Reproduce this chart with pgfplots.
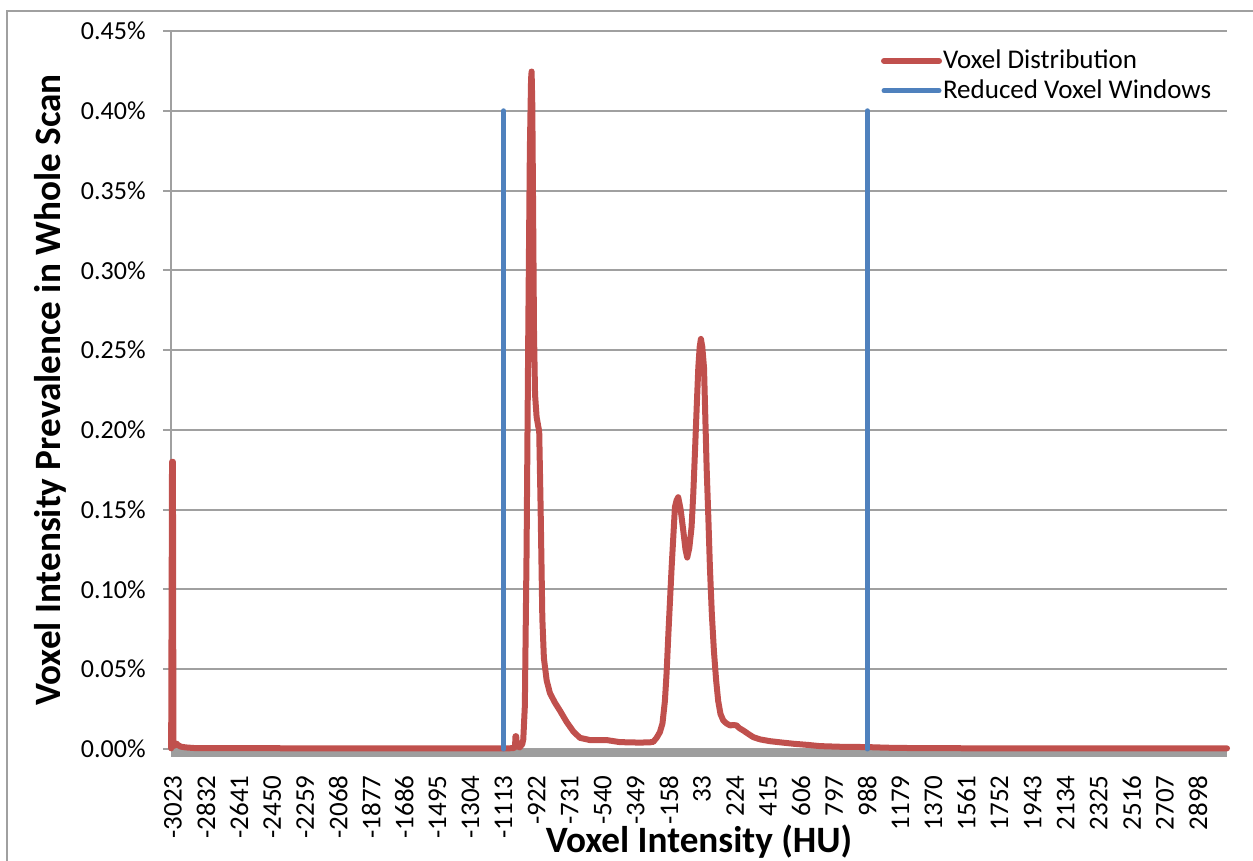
\documentclass[border=0pt]{standalone}
\usepackage{fontspec}
\setmainfont{Carlito}
\usepackage{pgfplots}
\pgfplotsset{compat=1.18}
\definecolor{xlRed}{HTML}{C0504D}
\definecolor{xlBlue}{HTML}{4F81BD}
\definecolor{xlGrid}{HTML}{A0A0A0}
\definecolor{xlBand}{HTML}{9E9E9E}

\begin{document}
\begin{tikzpicture}
\path[use as bounding box] (0,0) rectangle (626.5pt,430.5pt);
\draw[xlGrid, line width=1pt] (3.5pt,-20pt) -- (3.5pt,425pt) -- (700pt,425pt);
\begin{axis}[
  at={(85.5pt,56pt)}, anchor=south west,
  scale only axis, width=528pt, height=359pt,
  xmin=-3034, xmax=3066, ymin=0, ymax=0.45,
  axis x line*=bottom, axis y line*=left,
  x axis line style={draw=none},
  y axis line style={xlGrid, line width=1pt},
  xtick={-3023,-2832,...,2898},
  ytick={0,0.05,...,0.45},
  ymajorgrids, grid style={xlGrid, line width=1pt},
  tick align=outside, major tick length=4pt,
  ytick style={xlGrid, line width=1pt},
  xtick style={draw=none},
  /pgf/number format/assume math mode=true,
  tick label style={font=\fontsize{13}{15}\selectfont},
  yticklabel={\pgfmathprintnumber[fixed,fixed zerofill,precision=2]{\tick}\%},
  xticklabel={\pgfmathprintnumber[fixed,precision=0,set thousands separator={}]{\tick}},
  xticklabel style={rotate=90, anchor=east, inner sep=0pt, font=\fontsize{13.5}{15}\selectfont},
  xticklabel shift=9pt,
  yticklabel style={anchor=east, inner sep=0pt},
  yticklabel shift=8.5pt,
  xlabel={Voxel Intensity (HU)}, ylabel={Voxel Intensity Prevalence in Whole Scan},
  label style={font=\fontsize{18.6}{21}\selectfont\bfseries},
  xlabel style={at={([yshift=-46.5pt]axis description cs:0.5,0)}, anchor=center},
  ylabel style={at={([xshift=-60.5pt]axis description cs:0,0.5)}, anchor=center},
  legend style={at={(axis description cs:0.672,0.974)}, anchor=north west,
    draw=none, fill=none, inner sep=0pt, row sep=4pt, column sep=0.5pt,
    nodes={inner sep=0pt}, font=\fontsize{13.5}{16}\selectfont},
  legend cell align=left,
  legend image code/.code={\draw[#1, line cap=round] (0pt,0pt) -- (27.5pt,0pt);},
  unbounded coords=jump,
  clip=false,
]
\fill[xlBand] (axis cs:-3034,0) rectangle ([yshift=-4pt]axis cs:3066,0);
\addplot[xlRed, line width=3pt, line cap=round, line join=round] coordinates {
(-3033,0.0004) (-3028,0.180) (-3023,0.180) (-3020,0.004) (-3012,0.002) (-3004,0.0035)
(-2994,0.0025) (-2978,0.0015) (-2950,0.0010) (-2900,0.0006) (-2600,0.0005)
(-2000,0.0004) (-1500,0.0004) (-1100,0.0004) (-1060,0.0005) (-1047,0.0010)
(-1044,0.0080) (-1040,0.0080) (-1036,0.0020) (-1020,0.0010) (-1005,0.0030)
(-999,0.006) (-990,0.027) (-980,0.124) (-970,0.264) (-961,0.376) (-954,0.420)
(-951,0.4246) (-947,0.404) (-942,0.334) (-937,0.260) (-931,0.222) (-922,0.208)
(-913,0.2025) (-907,0.199) (-899,0.152) (-889,0.082) (-880,0.057) (-864,0.043)
(-845,0.035) (-816,0.029) (-787,0.024) (-749,0.017) (-710,0.011) (-672,0.007)
(-614,0.0056) (-518,0.0056) (-441,0.0043) (-325,0.0040) (-267,0.0042) (-248,0.0045)
(-229,0.007) (-210,0.0105) (-195,0.016) (-181,0.030) (-171,0.048) (-161,0.072)
(-142,0.114) (-123,0.1516) (-113,0.156) (-104,0.1578) (-90,0.150) (-75,0.137)
(-62,0.125) (-52,0.120) (-40,0.126) (-27,0.139) (-17,0.160) (-7,0.187) (3,0.215)
(12,0.239) (20,0.252) (27,0.257) (35,0.252) (45,0.239) (52,0.210) (60,0.1766)
(70,0.145) (79,0.114) (90,0.085) (102,0.0617) (115,0.043) (127,0.030) (140,0.022)
(156,0.0179) (175,0.016) (195,0.0148) (215,0.0150) (233,0.0148) (250,0.013)
(272,0.0116) (300,0.0095) (330,0.0074) (370,0.006) (426,0.0049) (500,0.0040)
(561,0.0033) (650,0.0025) (715,0.0018) (830,0.0014) (988,0.0012) (1100,0.0008)
(1300,0.0005) (2000,0.0004) (3066,0.0004)
};
\addlegendentry{Voxel Distribution}
\addplot[xlBlue, line width=2.5pt, line cap=round] coordinates {
(-1113,0) (-1113,0.40) (-1113,nan) (988,0) (988,0.40)
};
\addlegendentry{Reduced Voxel Windows}
\end{axis}
\end{tikzpicture}
\end{document}
